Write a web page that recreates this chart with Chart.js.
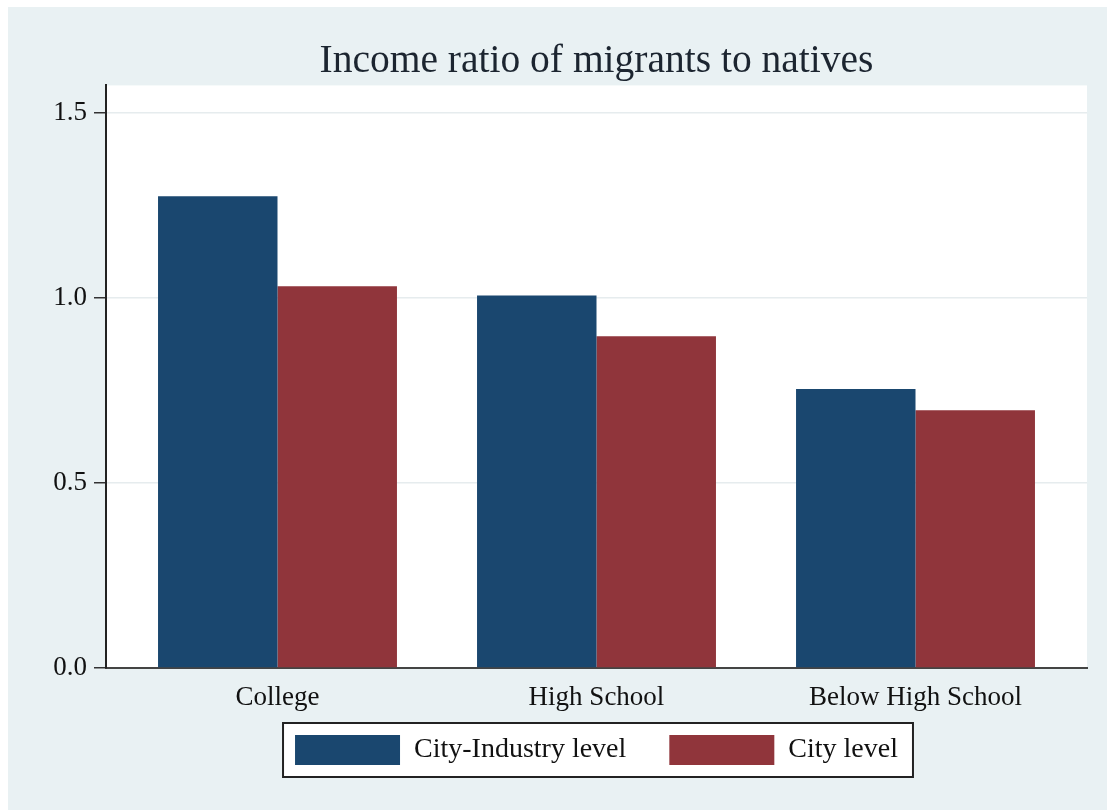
<!DOCTYPE html>
<html>
<head>
<meta charset="utf-8">
<script src="https://cdn.jsdelivr.net/npm/chart.js@4.4.1/dist/chart.umd.min.js"></script>
<style>
html, body { margin: 0; padding: 0; background: #fff; }
#wrap { position: absolute; left: 8px; top: 7px; width: 1099px; height: 803px; background: #e9f1f3; }
</style>
</head>
<body>
<div id="wrap"><canvas id="plot-data"></canvas></div>
<script>
const categories = ['College', 'High School', 'Below High School'];
const cityIndustry = [1.275, 1.007, 0.754];
const cityLevel = [1.032, 0.897, 0.697];
const yTicks = [0, 0.5, 1.0, 1.5];

const serif = 'Liberation Serif, Times New Roman, serif';

// white plot area + framed legend, drawn before everything else
const backdrop = {
    id: 'backdrop',
    afterLayout(chart) {
        // pull the legend up under the axis labels
        const lg = chart.legend;
        const h = lg.bottom - lg.top;
        lg.top = chart.chartArea.bottom + 24;
        lg.bottom = lg.top + h;
    },
    beforeDraw(chart) {
        const ctx = chart.ctx;
        const a = chart.chartArea;
        ctx.save();
        ctx.fillStyle = '#fff';
        ctx.fillRect(a.left, a.top, a.right - a.left, a.bottom - a.top);

        const boxes = chart.legend.legendHitBoxes;
        if (boxes && boxes.length) {
            let left = Math.min(...boxes.map(b => b.left)) - 12;
            let right = Math.max(...boxes.map(b => b.left + b.width)) + 15;
            let mid = boxes[0].top + boxes[0].height / 2;
            ctx.fillRect(left, mid - 27, right - left, 54);
            ctx.strokeStyle = '#222';
            ctx.lineWidth = 2;
            ctx.strokeRect(left, mid - 27, right - left, 54);
        }
        ctx.restore();
    }
};

const toPoints = vals => vals.map((v, i) => ({ x: i + 1, y: v }));

var ctx = document.getElementById('plot-data').getContext('2d');
var chart = new Chart(ctx, {
    type: 'bar',
    data: {
        datasets: [{
            label: 'City-Industry level',
            data: toPoints(cityIndustry),
            backgroundColor: '#1a476f',
            borderWidth: 0
        }, {
            label: 'City level',
            data: toPoints(cityLevel),
            backgroundColor: '#90353b',
            borderWidth: 0
        }]
    },
    options: {
        responsive: true,
        maintainAspectRatio: false,
        animation: false,
        categoryPercentage: 0.749,
        barPercentage: 1.0,
        layout: { padding: { left: 0, right: 20, top: 0, bottom: 0 } },
        plugins: {
            tooltip: { enabled: false },
            title: {
                display: true,
                text: 'Income ratio of migrants to natives',
                fullSize: false,
                color: '#1c2530',
                font: { family: serif, size: 39.5, weight: 'normal', lineHeight: 1.2 },
                padding: { top: 31, bottom: 0 }
            },
            legend: {
                position: 'bottom',
                fullSize: false,
                labels: {
                    boxWidth: 105,
                    boxHeight: 30,
                    padding: 43,
                    color: '#111',
                    font: { family: serif, size: 28 }
                }
            }
        },
        scales: {
            x: {
                type: 'linear',
                offset: false,
                min: 0.4624,
                max: 3.5376,
                afterBuildTicks: s => { s.ticks = categories.map((c, i) => ({ value: i + 1 })); },
                afterFit: s => { s.height = 59; },
                ticks: {
                    callback: (v, i) => categories[i],
                    autoSkip: false,
                    maxRotation: 0,
                    padding: 14,
                    color: '#111',
                    font: { family: serif, size: 27 }
                },
                grid: { display: false, drawTicks: false },
                border: { color: '#444', width: 2 }
            },
            y: {
                min: 0,
                max: 1.575,
                afterBuildTicks: s => { s.ticks = yTicks.map(v => ({ value: v })); },
                afterFit: s => { s.width = 98; },
                ticks: {
                    callback: v => v.toFixed(1),
                    padding: 7,
                    color: '#111',
                    font: { family: serif, size: 27 }
                },
                grid: {
                    color: c => (c.tick && c.tick.value === 0) ? 'rgba(0,0,0,0)' : '#e6ecee',
                    lineWidth: 1.5,
                    tickLength: 12,
                    tickColor: '#333',
                    tickWidth: 1.5
                },
                border: { color: '#222', width: 2 }
            }
        }
    },
    plugins: [backdrop]
});
</script>
</body>
</html>
